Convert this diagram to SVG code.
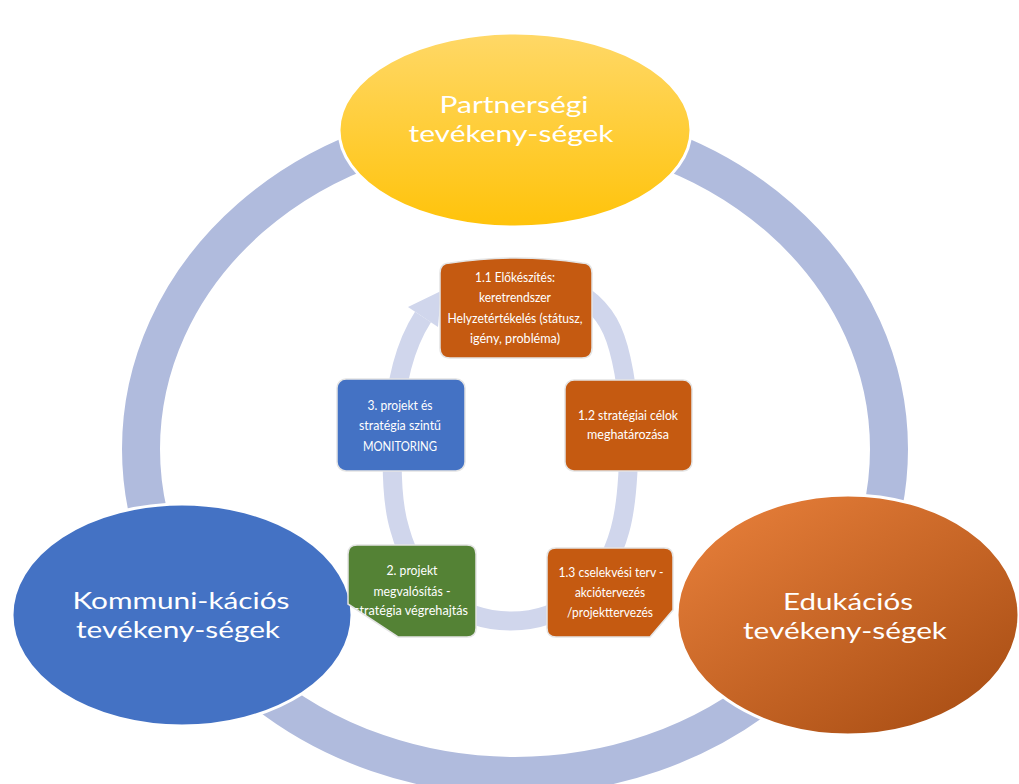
<svg xmlns="http://www.w3.org/2000/svg" width="1019" height="784" viewBox="0 0 1019 784">
  <defs>
    <linearGradient id="gYellow" x1="0" y1="0" x2="0" y2="1">
      <stop offset="0" stop-color="#FFD867"/>
      <stop offset="1" stop-color="#FFC30A"/>
    </linearGradient>
    <linearGradient id="gOrange" x1="0.15" y1="0.1" x2="0.9" y2="0.95">
      <stop offset="0" stop-color="#E27B37"/>
      <stop offset="1" stop-color="#A94E14"/>
    </linearGradient>
    <clipPath id="clip2">
      <path d="M357 545 L467 545 Q476 545 476 554 L476 628 Q476 637 467 637 L398 637 L348 604 L348 554 Q348 545 357 545 Z"/>
    </clipPath>
    <clipPath id="clip13">
      <path d="M556 548 L664 548 Q673 548 673 557 L673 610 L650 637 L556 637 Q547 637 547 628 L547 557 Q547 548 556 548 Z"/>
    </clipPath>
  </defs>
  <style>
    .big { fill: none; stroke: #B0BBDD; stroke-width: 38; }
    .inner { fill: none; stroke: #D0D6EC; stroke-width: 19; }
    .ell { stroke: #FFFFFF; stroke-width: 3; }
    .bigtxt { font-family: Lato, "Open Sans", sans-serif; font-size: 24px; fill: #FFFFFF; text-anchor: middle; }
    .box { stroke: #E4E4E4; stroke-width: 1.5; }
    .sm { font-family: Lato, "Open Sans", sans-serif; font-size: 14px; fill: #FFFFFF; text-anchor: middle; }
  </style>
  <rect width="1019" height="784" fill="#FFFFFF"/>

  <g id="connectors">
    <ellipse class="big" cx="515" cy="449" rx="374" ry="327"/>
  </g>

  <g id="node-partnersegi">
    <ellipse class="ell" cx="515" cy="130" rx="176" ry="97" fill="url(#gYellow)"/>
    <text class="bigtxt" x="514" y="113" textLength="149" lengthAdjust="spacingAndGlyphs">Partnerségi</text>
    <text class="bigtxt" x="511" y="142" textLength="205" lengthAdjust="spacingAndGlyphs">tevékeny-ségek</text>
  </g>

  <g id="node-kommunikacios">
    <ellipse class="ell" cx="182" cy="615" rx="170" ry="111" fill="#4472C4"/>
    <text class="bigtxt" x="181" y="609" textLength="217" lengthAdjust="spacingAndGlyphs">Kommuni-kációs</text>
    <text class="bigtxt" x="178" y="638" textLength="204" lengthAdjust="spacingAndGlyphs">tevékeny-ségek</text>
  </g>

  <g id="node-edukacios">
    <ellipse class="ell" cx="848" cy="615" rx="171" ry="120" fill="url(#gOrange)"/>
    <text class="bigtxt" x="848" y="610" textLength="130" lengthAdjust="spacingAndGlyphs">Edukációs</text>
    <text class="bigtxt" x="845" y="639" textLength="204" lengthAdjust="spacingAndGlyphs">tevékeny-ségek</text>
  </g>

  <g id="cycle-connector">
    <path class="inner" d="M560 285 C585 292 603 310 612 330 C621 350 629 390 629 430 C629 470 627 505 620 530 C605 585 565 621 511 621 C457 621 415 585 400 530 C392 505 391 470 393 430 C395 385 405 345 423 317"/>
    <polygon points="408,307 438,327 441,291" fill="#D0D6EC"/>
  </g>

  <g id="node-1-1">
    <path class="box" d="M450 263 Q516 253 582 263 Q592 263 592 273 L592 348 Q592 358 582 358 L450 358 Q440 358 440 348 L440 273 Q440 263 450 263 Z" fill="#C55A11"/>
    <text class="sm" x="515" y="282" textLength="80" lengthAdjust="spacingAndGlyphs">1.1 Előkészítés:</text>
    <text class="sm" x="515" y="302" textLength="72" lengthAdjust="spacingAndGlyphs">keretrendszer</text>
    <text class="sm" x="515" y="323" textLength="135" lengthAdjust="spacingAndGlyphs">Helyzetértékelés (státusz,</text>
    <text class="sm" x="515" y="343" textLength="90" lengthAdjust="spacingAndGlyphs">igény, probléma)</text>
  </g>

  <g id="node-1-2">
    <rect class="box" x="565" y="380" width="127" height="91" rx="9" fill="#C55A11"/>
    <text class="sm" x="628" y="420" textLength="100" lengthAdjust="spacingAndGlyphs">1.2 stratégiai célok</text>
    <text class="sm" x="628" y="439" textLength="82" lengthAdjust="spacingAndGlyphs">meghatározása</text>
  </g>

  <g id="node-1-3">
    <path class="box" d="M556 548 L664 548 Q673 548 673 557 L673 610 L650 637 L556 637 Q547 637 547 628 L547 557 Q547 548 556 548 Z" fill="#C55A11"/>
    <g clip-path="url(#clip13)">
      <text class="sm" x="611" y="577" textLength="105" lengthAdjust="spacingAndGlyphs">1.3 cselekvési terv -</text>
      <text class="sm" x="610" y="597" textLength="70" lengthAdjust="spacingAndGlyphs">akciótervezés</text>
      <text class="sm" x="610" y="617" textLength="86" lengthAdjust="spacingAndGlyphs">/projekttervezés</text>
    </g>
  </g>

  <g id="node-2">
    <path class="box" d="M357 545 L467 545 Q476 545 476 554 L476 628 Q476 637 467 637 L398 637 L348 604 L348 554 Q348 545 357 545 Z" fill="#548235"/>
    <g clip-path="url(#clip2)">
      <text class="sm" x="412" y="575" textLength="51" lengthAdjust="spacingAndGlyphs">2. projekt</text>
      <text class="sm" x="412" y="596" textLength="77" lengthAdjust="spacingAndGlyphs">megvalósítás -</text>
      <text class="sm" x="411" y="615" textLength="114" lengthAdjust="spacingAndGlyphs">stratégia végrehajtás</text>
    </g>
  </g>

  <g id="node-3">
    <rect class="box" x="337" y="379" width="128" height="92" rx="9" fill="#4472C4"/>
    <text class="sm" x="400" y="410" textLength="65" lengthAdjust="spacingAndGlyphs">3. projekt és</text>
    <text class="sm" x="400" y="430" textLength="82" lengthAdjust="spacingAndGlyphs">stratégia szintű</text>
    <text class="sm" x="400" y="451" textLength="74" lengthAdjust="spacingAndGlyphs">MONITORING</text>
  </g>
</svg>
